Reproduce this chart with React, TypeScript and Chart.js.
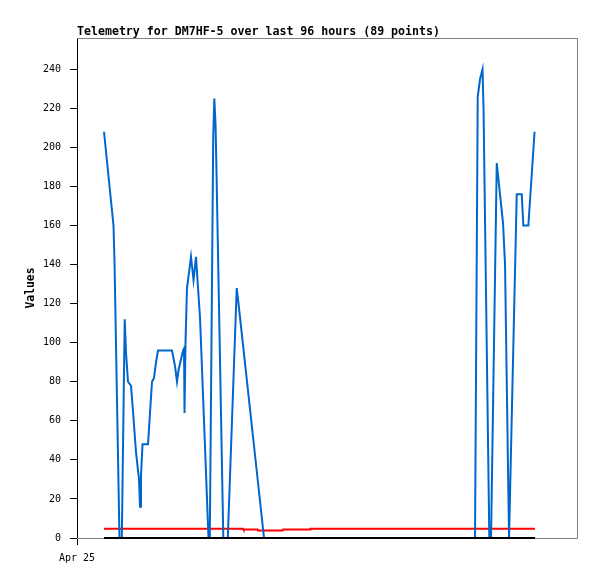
import React, { useEffect, useRef } from "react";
import { Chart, registerables } from "chart.js";

Chart.register(...registerables);

const TITLE = "Telemetry for DM7HF-5 over last 96 hours (89 points)";
const Y_LABEL = "Values";
const X_TICK_LABEL = "Apr 25";
const X_MAX_HOURS = 111.1;
const Y_MAX = 256;
const Y_TICK_STEP = 20;

// hours since Apr 25 00:00
const blueHours = [
  6.0, 8.11, 8.33, 9.44, 9.96, 10.6, 10.89, 11.33, 12.0, 12.44, 13.11, 13.78, 14.0, 14.22, 14.56,
  15.78, 16.22, 16.67, 17.11, 17.56, 18.0, 21.11, 21.78, 22.22, 22.56, 23.56, 23.78, 23.89, 24.11,
  24.44, 24.89, 25.33, 25.89, 26.44, 26.89, 27.33, 28.22, 29.22, 29.51, 30.27, 30.51, 30.78, 31.0,
  32.51, 33.51, 35.49, 35.89, 41.56, 88.44, 89.04, 89.56, 90.11, 90.33, 91.62, 92.0, 93.27, 94.67,
  95.11, 96.0, 97.71, 98.82, 99.18, 100.29, 101.67,
];
const blueValues = [
  208, 160, 142, 0, 0, 112, 95, 80, 78, 65, 44, 30, 16, 32, 48,
  48, 64, 80, 82, 90, 96, 96, 88, 80, 86, 96, 97, 64, 100,
  128, 136, 144, 132, 144, 128, 113, 60, 0, 0, 205, 225, 212, 187,
  0, 0, 128, 120, 0, 0, 226, 235, 240, 220, 0, 0, 192, 161,
  140, 0, 176, 176, 160, 160, 208,
];

const redHours = [6.0, 36.89, 37.0, 40.11, 40.22, 45.67, 45.78, 51.78, 51.89, 101.78];
const redValues = [4.8, 4.8, 4.3, 4.3, 3.8, 3.8, 4.3, 4.3, 4.8, 4.8];

const blackHours = [6.0, 101.78];
const blackValues = [0, 0];

const MONO = "'DejaVu Sans Mono', monospace";

const toPoints = (xs: number[], ys: number[]) => xs.map((x, i) => ({ x, y: ys[i] }));

const framePlugin = {
  id: "frameAndTitle",
  beforeDatasetsDraw(chart: any) {
    const { ctx, chartArea } = chart;
    const { left, right, top, bottom } = chartArea;
    ctx.save();
    ctx.strokeStyle = "#808080";
    ctx.lineWidth = 1;
    ctx.beginPath();
    ctx.moveTo(left, top + 0.5);
    ctx.lineTo(right + 0.5, top + 0.5);
    ctx.lineTo(right + 0.5, bottom + 0.5);
    ctx.lineTo(left, bottom + 0.5);
    ctx.stroke();
    ctx.restore();
  },
  afterDraw(chart: any) {
    const { ctx, chartArea } = chart;
    ctx.save();
    ctx.font = `bold 11.6px ${MONO}`;
    ctx.fillStyle = "#000";
    ctx.textAlign = "left";
    ctx.textBaseline = "alphabetic";
    ctx.fillText(TITLE, chartArea.left, 35);
    ctx.restore();
  },
};

export default function App() {
  const ref = useRef<HTMLCanvasElement | null>(null);

  useEffect(() => {
    if (!ref.current) return;
    const chart = new Chart(ref.current, {
      type: "line",
      data: {
        datasets: [
          {
            label: "zero",
            data: toPoints(blackHours, blackValues),
            borderColor: "#000000",
            borderWidth: 2,
            pointRadius: 0,
            tension: 0,
            clip: 3,
          },
          {
            label: "values",
            data: toPoints(blueHours, blueValues),
            borderColor: "#0066cc",
            borderWidth: 2,
            pointRadius: 0,
            tension: 0,
            clip: 3,
          },
          {
            label: "voltage",
            data: toPoints(redHours, redValues),
            borderColor: "#ff0000",
            borderWidth: 2,
            pointRadius: 0,
            tension: 0,
            clip: 3,
          },
        ],
      },
      options: {
        animation: false,
        responsive: false,
        devicePixelRatio: 1,
        layout: { padding: { top: 38, right: 20, bottom: 0, left: 0 } },
        plugins: {
          legend: { display: false },
          title: { display: false },
          tooltip: { enabled: false },
        },
        scales: {
          x: {
            type: "linear",
            min: 0,
            max: X_MAX_HOURS,
            afterBuildTicks: (axis: any) => {
              axis.ticks = [{ value: 0 }];
            },
            afterFit: (scale: any) => {
              scale.height = 41;
            },
            ticks: {
              callback: () => X_TICK_LABEL,
              color: "#000",
              font: { family: MONO, size: 10 },
              padding: 7,
              maxRotation: 0,
              autoSkip: false,
            },
            grid: {
              display: true,
              drawOnChartArea: false,
              drawTicks: true,
              tickLength: 7,
              color: "#000",
            },
            border: { display: false },
          },
          y: {
            type: "linear",
            min: 0,
            max: Y_MAX,
            afterFit: (scale: any) => {
              scale.width = 77;
            },
            ticks: {
              stepSize: Y_TICK_STEP,
              includeBounds: false,
              color: "#000",
              font: { family: MONO, size: 10 },
              padding: 9,
            },
            grid: {
              display: true,
              drawOnChartArea: false,
              drawTicks: true,
              tickLength: 7,
              color: "#000",
            },
            border: { display: true, color: "#000", width: 1 },
            title: {
              display: true,
              text: Y_LABEL,
              color: "#000",
              font: { family: MONO, size: 11.4, weight: "bold" },
              padding: { top: 24, bottom: 0 },
            },
          },
        },
      },
      plugins: [framePlugin],
    } as any);
    return () => chart.destroy();
  }, []);

  return (
    <div style={{ position: "absolute", left: 0, top: 0, width: 597, height: 579, background: "#fff" }}>
      <canvas ref={ref} width={597} height={579} style={{ display: "block" }} />
    </div>
  );
}
